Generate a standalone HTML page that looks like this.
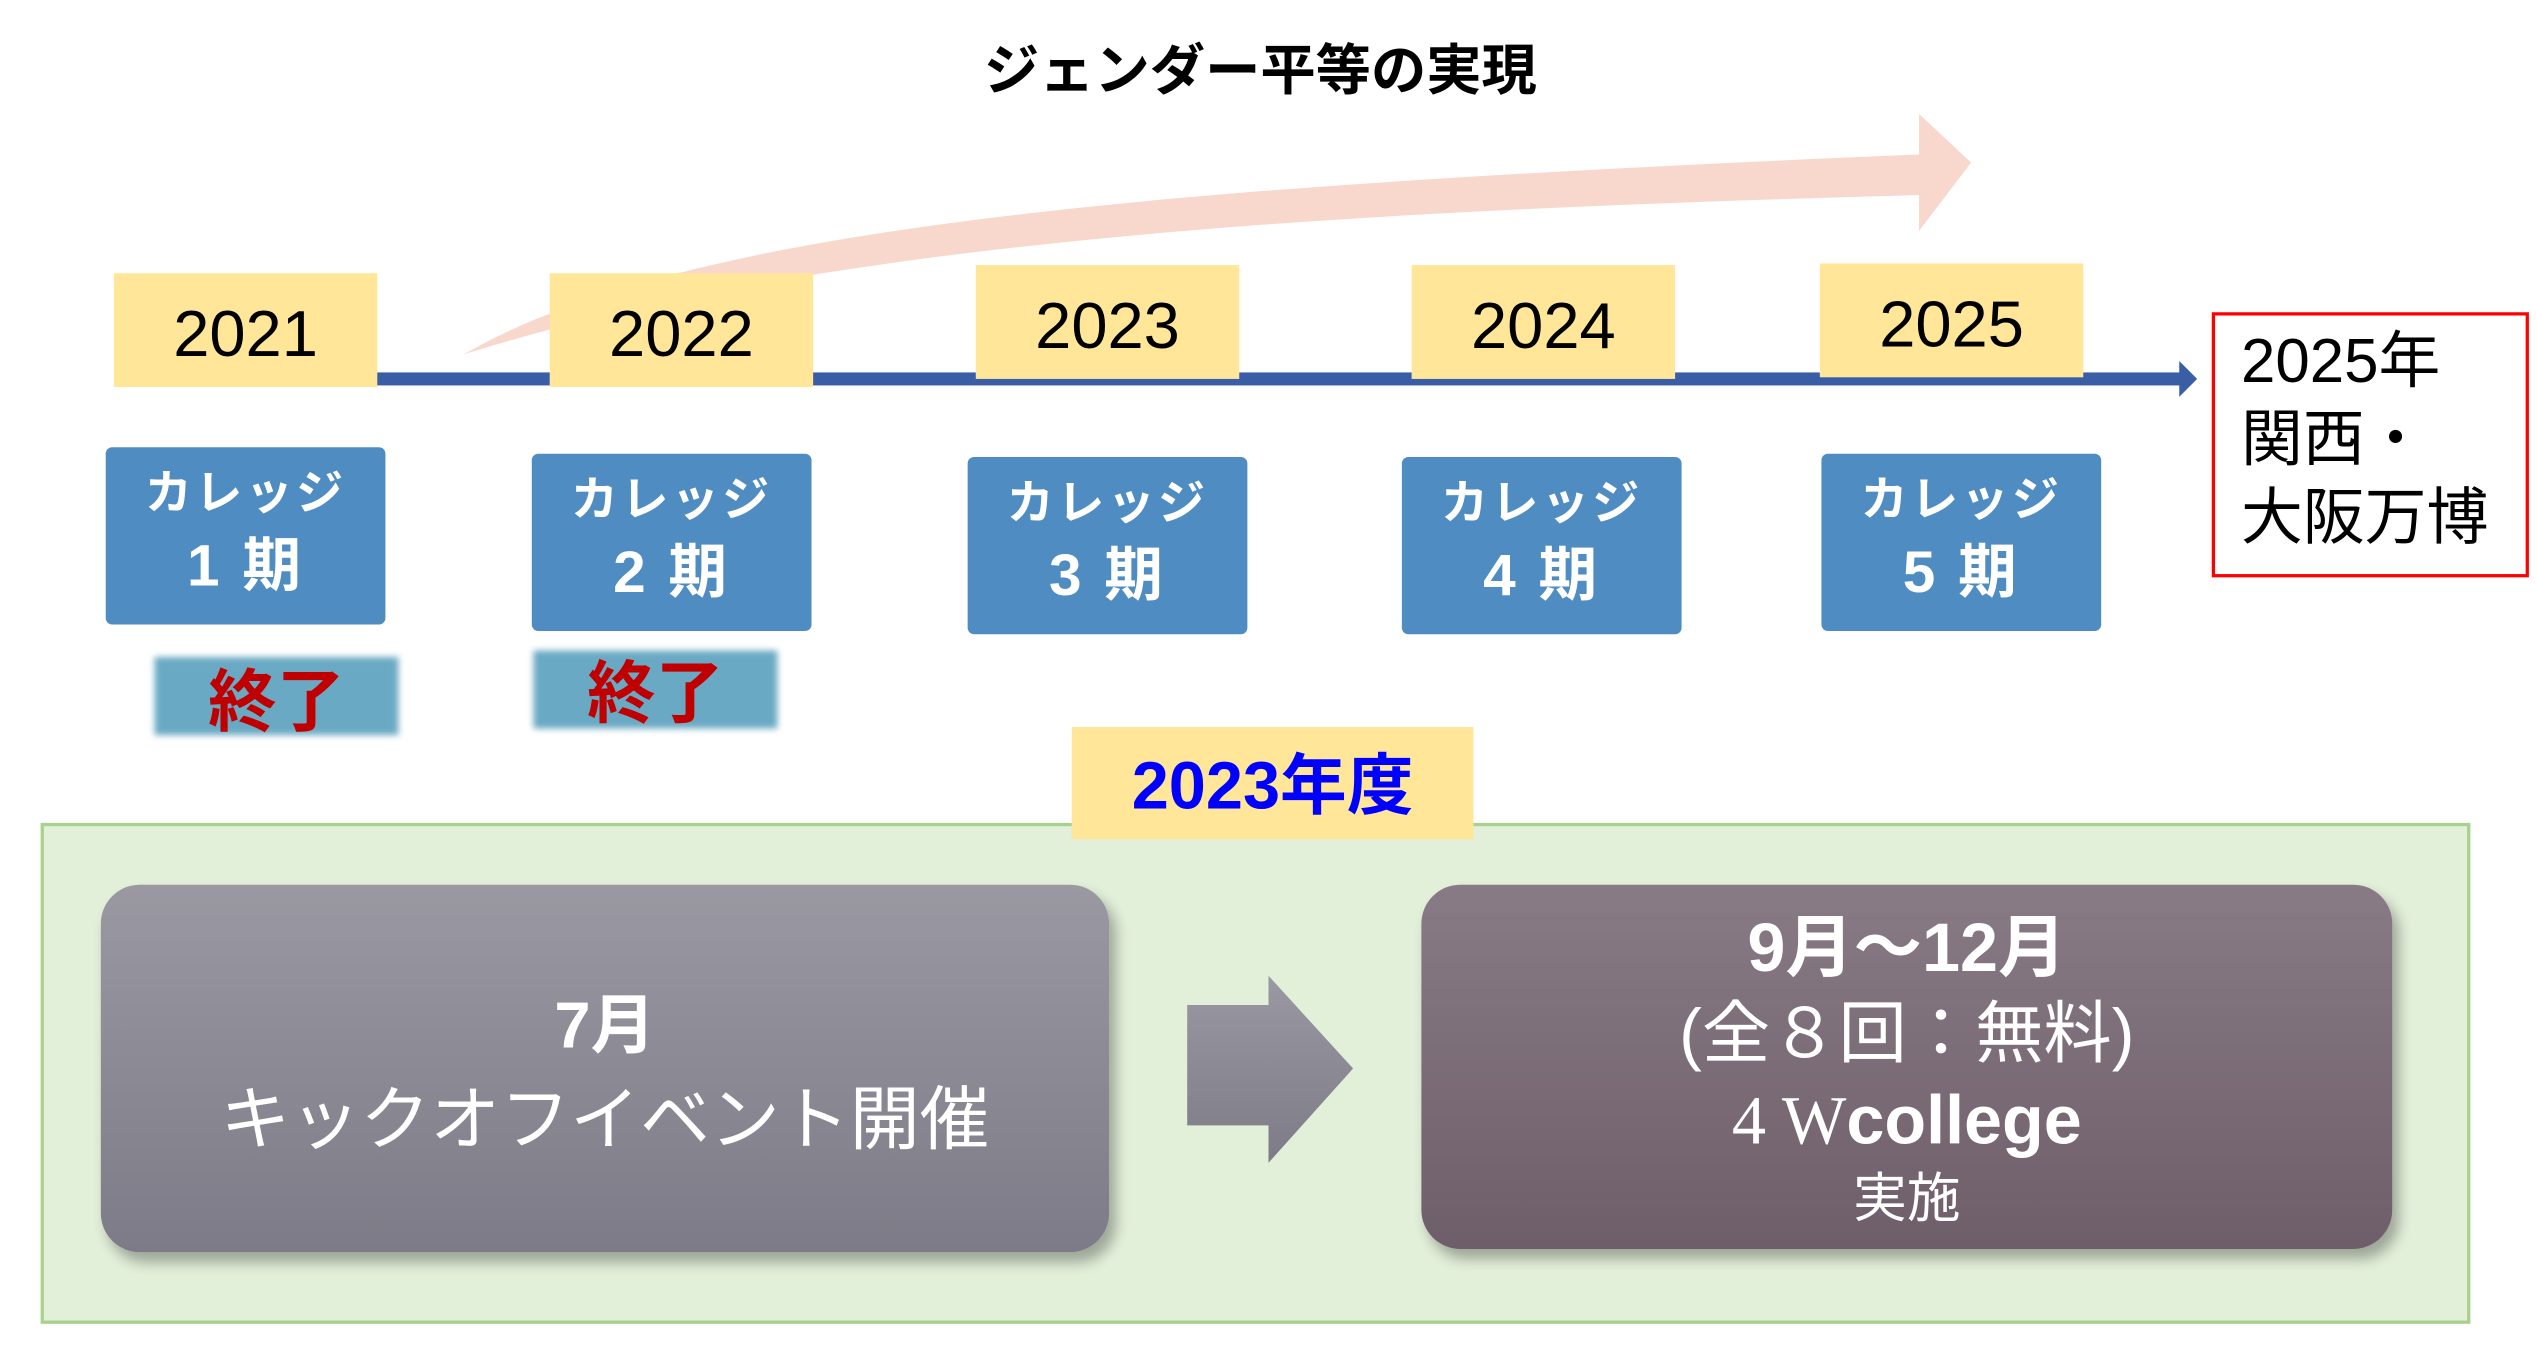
<!DOCTYPE html>
<html><head><meta charset="utf-8"><style>
html,body{margin:0;padding:0;width:2537px;height:1365px;overflow:hidden;background:#fff}
#s{position:absolute;left:0;top:0;width:1560px;height:840px;transform:scale(1.6263);transform-origin:0 0;font-family:"Liberation Sans","Noto Sans CJK JP",sans-serif}
.a{position:absolute;box-sizing:border-box}
.yr{background:#ffe699;width:162px;height:70px;font-size:40px;display:flex;align-items:center;justify-content:center;padding-top:6px}
.bl{background:#4e8cc2;width:172px;height:109px;border-radius:4px;color:#fff;font-weight:bold;font-size:29px;text-align:center;line-height:43px;padding-top:8px;letter-spacing:2px}
.bl span{font-size:36px}
.en{background:#6aa9c3;width:150px;height:48px;filter:blur(2px)}
.ent{color:#c00000;font-weight:bold;font-size:42px;width:150px;text-align:center}
.c{display:flex;flex-direction:column;align-items:center;justify-content:center;color:#fff;text-align:center}
</style></head><body><div id="s">
<div class="a" style="left:0;top:16px;width:1560px;text-align:center;font-size:34px;font-weight:bold;padding-right:10px">ジェンダー平等の実現</div>
<svg class="a" style="left:0;top:0" width="1560" height="840">
<path d="M285 218 C420 140 700 115 1180 95 L1180 70 L1212 100 L1180 142 L1180 120 C800 130 500 150 285 218 Z" fill="#f8d8cc"/>
<rect x="83" y="229" width="1258" height="8" fill="#3a5ea6"/>
<polygon points="1340,222 1351,233 1340,244" fill="#3a5ea6"/>
</svg>
<div class="a yr" style="left:70px;top:168px">2021</div>
<div class="a yr" style="left:338px;top:168px">2022</div>
<div class="a yr" style="left:600px;top:163px">2023</div>
<div class="a yr" style="left:868px;top:163px">2024</div>
<div class="a yr" style="left:1119px;top:162px">2025</div>
<div class="a" style="left:1360px;top:192px;width:195px;height:163px;border:2px solid #ff0000;font-size:38px;line-height:48px;padding:5px 0 0 16px">2025年<br>関西・<br>大阪万博</div>
<div class="a bl" style="left:65px;top:275px">カレッジ<br><span>1 期</span></div>
<div class="a bl" style="left:327px;top:279px">カレッジ<br><span>2 期</span></div>
<div class="a bl" style="left:595px;top:281px">カレッジ<br><span>3 期</span></div>
<div class="a bl" style="left:862px;top:281px">カレッジ<br><span>4 期</span></div>
<div class="a bl" style="left:1120px;top:279px">カレッジ<br><span>5 期</span></div>
<div class="a en" style="left:95px;top:404px"></div>
<div class="a ent" style="left:95px;top:398px">終了</div>
<div class="a en" style="left:328px;top:400px"></div>
<div class="a ent" style="left:328px;top:393px">終了</div>
<div class="a" style="left:25px;top:506px;width:1494px;height:308px;background:#e2efd9;border:2px solid #a9d18e"></div>
<div class="a" style="left:659px;top:447px;width:247px;height:69px;background:#ffe699;color:#0000ff;font-weight:bold;font-size:41px;text-align:center;line-height:72px">2023年度</div>
<div class="a c" style="left:62px;top:544px;width:620px;height:226px;border-radius:24px;background:linear-gradient(#9a99a2,#7c7b87);box-shadow:4px 6px 8px rgba(0,0,0,.3);font-size:43px;line-height:58px;padding-top:6px"><div style="font-weight:bold;font-size:40px">7月</div><div>キックオフイベント開催</div></div>
<svg class="a" style="left:725px;top:595px" width="115" height="125"><defs><linearGradient id="g2" x1="0" y1="0" x2="0" y2="1"><stop offset="0" stop-color="#9a99a2"/><stop offset="1" stop-color="#7c7b87"/></linearGradient></defs><polygon points="5,23 55,23 55,5 107,62 55,120 55,97 5,97" fill="url(#g2)"/></svg>
<div class="a c" style="left:874px;top:544px;width:597px;height:224px;border-radius:24px;background:linear-gradient(#887b85,#6e5e69);box-shadow:4px 6px 8px rgba(0,0,0,.3);font-size:42px;line-height:53px;padding-top:0px"><div style="font-weight:bold">9月～12月</div><div>(全８回：無料)</div><div><span style="font-family:'Liberation Serif',serif">4 W</span><b>college</b></div><div style="font-size:33px;line-height:40px">実施</div></div>
</div></body></html>
